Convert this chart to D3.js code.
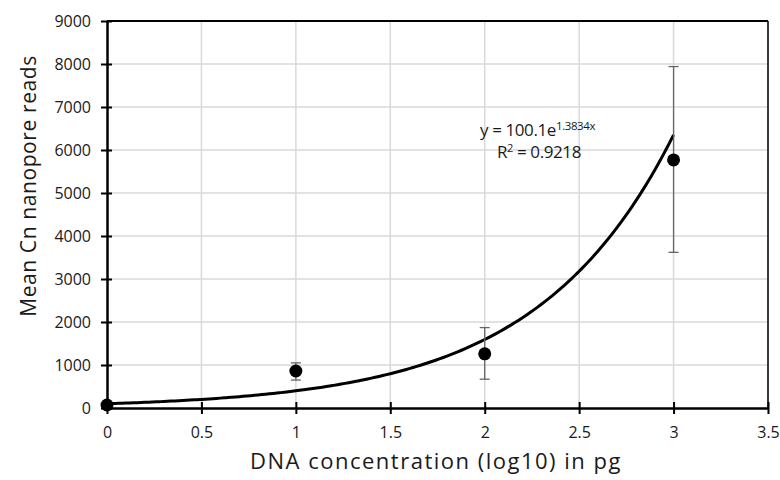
<!DOCTYPE html>
<html><head><meta charset="utf-8">
<script src="https://cdn.jsdelivr.net/npm/d3@7"></script>
<style>body{margin:0;background:#fff;} text{font-family:"Open Sans","Noto Sans",sans-serif;}</style>
</head><body>
<svg id="c" width="780" height="480"></svg>
<script>
const xValues = [0, 1, 2, 3];
const meanReads = [70, 860, 1260, 5770];
const errUpper = [70, 1050, 1870, 7940];
const errLower = [70, 650, 670, 3620];
const xTicks = [0, 0.5, 1, 1.5, 2, 2.5, 3, 3.5];
const yTicks = [0, 1000, 2000, 3000, 4000, 5000, 6000, 7000, 8000, 9000];
const fitA = 100.1, fitB = 1.3834;
const eqLabel = ["y = 100.1e", "1.3834x"];
const r2Label = ["R", "2", " = 0.9218"];
const xTitle = "DNA concentration (log10) in pg";
const yTitle = "Mean Cn nanopore reads";

const svg = d3.select("#c");
const L = 107, R = 768, T = 21, B = 408;
const x = d3.scaleLinear().domain([0, 3.5]).range([L, R]);
const y = d3.scaleLinear().domain([0, 9000]).range([B, T]);

// grid
svg.append("g").selectAll("line").data(yTicks.slice(1)).join("line")
  .attr("x1", L).attr("x2", R).attr("y1", d => y(d)).attr("y2", d => y(d))
  .attr("stroke", "#d9d9d9").attr("stroke-width", 1.5);
svg.append("g").selectAll("line").data(xTicks.slice(1)).join("line")
  .attr("y1", T).attr("y2", B).attr("x1", d => x(d)).attr("x2", d => x(d))
  .attr("stroke", "#d9d9d9").attr("stroke-width", 1.5);

// frame top/right
svg.append("line").attr("x1", L).attr("x2", R).attr("y1", T).attr("y2", T).attr("stroke", "#000").attr("stroke-width", 2);
svg.append("line").attr("x1", R).attr("x2", R).attr("y1", T).attr("y2", B).attr("stroke", "#000").attr("stroke-width", 1.5);

// axes
const yAxis = d3.axisLeft(y).tickValues(yTicks).tickSize(0).tickPadding(16).tickFormat(d3.format("d"));
const gy = svg.append("g").attr("transform", `translate(${L},0)`).call(yAxis);
gy.attr("font-size", null).attr("font-family", null);
gy.select(".domain").attr("stroke", "#000").attr("stroke-width", 2.5);
gy.selectAll("text").style("font-size", "16px").attr("fill", "#1a1a1a");
gy.selectAll(".tick").append("line").attr("x1", -6).attr("x2", 5).attr("stroke", "#000").attr("stroke-width", 2);

const xAxis = d3.axisBottom(x).tickValues(xTicks).tickSize(0).tickPadding(19).tickFormat(d3.format("~g"));
const gx = svg.append("g").attr("transform", `translate(0,${B})`).call(xAxis);
gx.attr("font-size", null).attr("font-family", null);
gx.select(".domain").attr("stroke", "#000").attr("stroke-width", 2.5);
gx.selectAll("text").style("font-size", "16px").attr("fill", "#1a1a1a");
gx.selectAll(".tick").append("line").attr("y1", -6).attr("y2", 6).attr("stroke", "#000").attr("stroke-width", 2);

// fit curve
const fitPts = d3.range(0, 3.0001, 0.02).map(v => [v, fitA * Math.exp(fitB * v)]);
svg.append("path").datum(fitPts)
  .attr("d", d3.line().x(d => x(d[0])).y(d => y(d[1])).curve(d3.curveBasis))
  .attr("fill", "none").attr("stroke", "#000").attr("stroke-width", 3);

// error bars
const eb = svg.append("g").attr("stroke", "#666").attr("stroke-width", 1.3);
xValues.forEach((v, i) => {
  if (errUpper[i] === errLower[i]) return;
  eb.append("line").attr("x1", x(v)).attr("x2", x(v)).attr("y1", y(errUpper[i])).attr("y2", y(errLower[i]));
  [errUpper[i], errLower[i]].forEach(e => eb.append("line").attr("x1", x(v) - 5).attr("x2", x(v) + 5).attr("y1", y(e)).attr("y2", y(e)));
});

// points
svg.append("g").selectAll("circle").data(xValues).join("circle")
  .attr("cx", d => x(d)).attr("cy", (d, i) => y(meanReads[i])).attr("r", 6.5).attr("fill", "#000");

// equation
const eq = svg.append("text").attr("x", 480).attr("y", 136).style("font-size", "17px").attr("fill", "#1a1a1a").attr("letter-spacing", -0.4);
eq.append("tspan").text(eqLabel[0]);
eq.append("tspan").style("font-size", "11.5px").attr("dy", -6).text(eqLabel[1]);
const r2 = svg.append("text").attr("x", 497).attr("y", 158).style("font-size", "17px").attr("fill", "#1a1a1a").attr("letter-spacing", -0.4);
r2.append("tspan").text(r2Label[0]);
r2.append("tspan").style("font-size", "11px").attr("dy", -6).text(r2Label[1]);
r2.append("tspan").attr("dy", 6).text(r2Label[2]);

// titles
svg.append("text").attr("x", 436).attr("y", 469).attr("text-anchor", "middle").style("font-size", "22px").attr("letter-spacing", 1.5).attr("fill", "#1a1a1a").text(xTitle);
svg.append("text").attr("transform", `translate(36,186) rotate(-90)`).attr("text-anchor", "middle").style("font-size", "21px").attr("letter-spacing", 0.6).attr("fill", "#1a1a1a").text(yTitle);
</script>
</body></html>
